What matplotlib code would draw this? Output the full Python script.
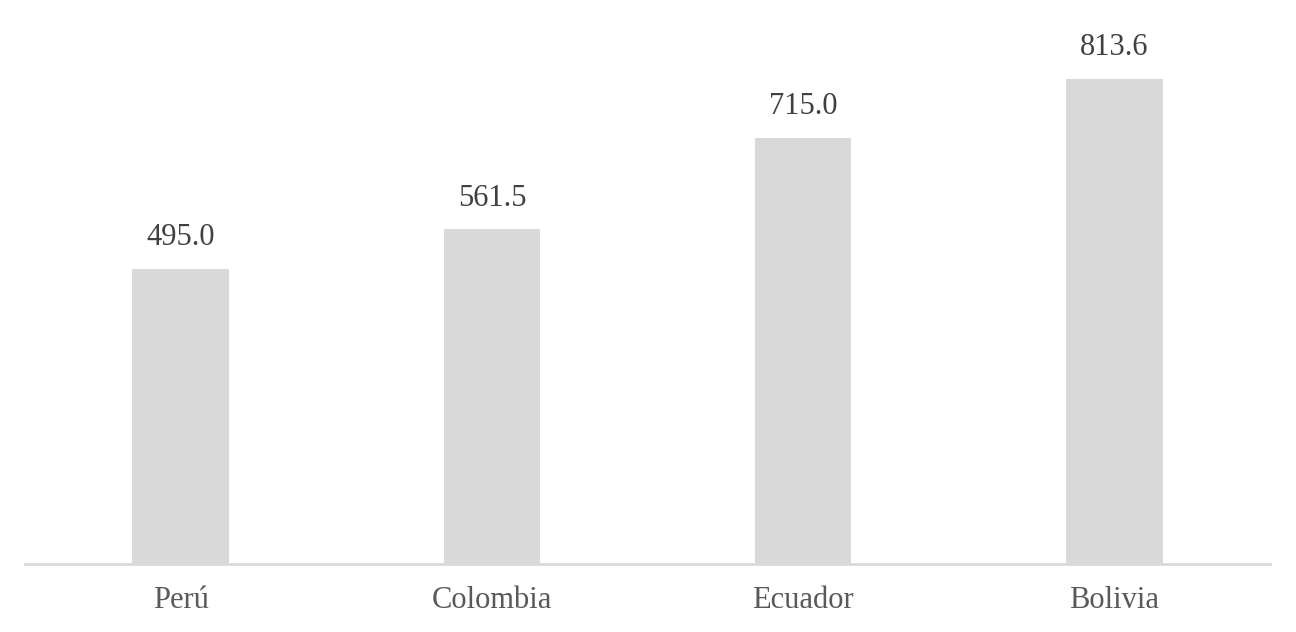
import matplotlib.pyplot as plt

paises = ["Perú", "Colombia", "Ecuador", "Bolivia"]
valores = [495.0, 561.5, 715.0, 813.6]
etiquetas = ["495.0", "561.5", "715.0", "813.6"]

plt.rcParams['font.family'] = ['Liberation Serif', 'DejaVu Serif']

fig = plt.figure(figsize=(12.96, 6.32), dpi=100)
ax = fig.add_axes([25/1296, (632-564)/632, 1245/1296, 564/632])

x = range(len(paises))
barras = ax.bar(x, valores, width=0.31, color="#d9d9d9", zorder=2)

for b, txt in zip(barras, etiquetas):
    ax.annotate(txt, (b.get_x() + b.get_width()/2, b.get_height()),
                xytext=(0, 12), textcoords="offset points",
                ha="center", va="bottom", fontsize=22, color="#404040")

ax.set_xlim(-0.5, 3.5)
ax.set_ylim(0, 946)
ax.set_xticks(list(x))
ax.set_xticklabels(paises, fontsize=22, color="#595959")
ax.tick_params(axis="x", length=0, pad=16)
ax.set_yticks([])
for s in ["top", "right", "left"]:
    ax.spines[s].set_visible(False)
ax.spines["bottom"].set_color("#d9d9d9")
ax.spines["bottom"].set_linewidth(2)
ax.spines["bottom"].set_zorder(3)

plt.savefig("out.png", dpi=100)
